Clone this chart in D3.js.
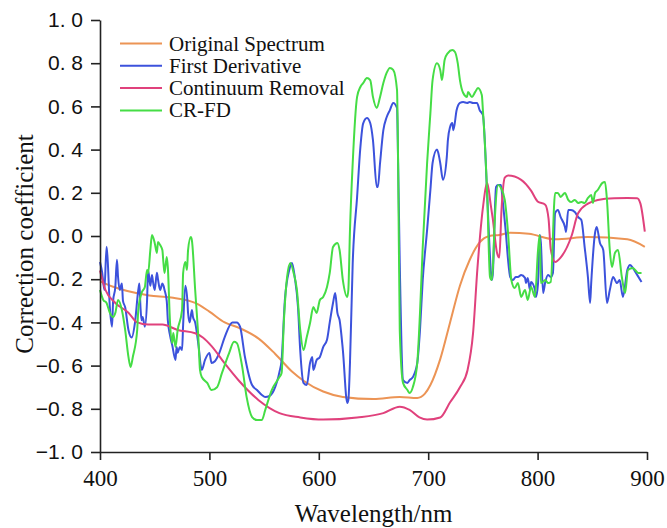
<!DOCTYPE html>
<html>
<head>
<meta charset="utf-8">
<script src="https://cdn.jsdelivr.net/npm/d3@7"></script>
<style>
  html, body { margin: 0; padding: 0; background: #fff; }
  svg { display: block; }
</style>
</head>
<body>
<svg id="chart" width="667" height="528"></svg>
<script>
// ---------- data ----------
const wavelengthTicks = [400, 500, 600, 700, 800, 900];
const coefficientTicks = [-1.0, -0.8, -0.6, -0.4, -0.2, 0.0, 0.2, 0.4, 0.6, 0.8, 1.0];
const seriesNames = ["Original Spectrum", "First Derivative", "Continuum Removal", "CR-FD"];
const seriesColors = ["#ec9455", "#3c52dc", "#e0417c", "#45dd45"];

const originalSpectrum = [
  [400,-0.21],[412,-0.235],[425,-0.255],[445,-0.275],[465,-0.285],[487,-0.31],[500,-0.35],
  [514,-0.40],[527,-0.425],[545,-0.475],[560,-0.545],[576,-0.63],[586,-0.67],[604,-0.72],
  [622,-0.745],[650,-0.755],[674,-0.745],[690,-0.75],[697,-0.73],[702,-0.69],[711,-0.57],
  [720,-0.40],[729,-0.23],[738,-0.11],[747,-0.03],[756,0.0],[765,0.005],[775,0.015],
  [792,0.01],[816,-0.015],[846,-0.005],[882,-0.015],[898,-0.05]
];

const firstDerivative = [
  [400,-0.12],[402,-0.17],[404,-0.25],[406,-0.05],[407,-0.11],[409,-0.33],[411,-0.42],[412,-0.30],
  [414,-0.236],[415.5,-0.11],[416.5,-0.19],[418,-0.25],[420,-0.22],[421,-0.30],[423,-0.33],
  [426,-0.435],[429,-0.47],[432,-0.40],[435,-0.25],[436,-0.22],[437,-0.33],[438,-0.39],
  [439,-0.375],[441,-0.42],[443,-0.30],[444,-0.157],[446,-0.23],[447.5,-0.18],[448.4,-0.21],
  [450,-0.25],[452,-0.17],[453,-0.20],[455,-0.25],[457,-0.22],[458,-0.23],[459,-0.25],
  [461,-0.30],[462,-0.39],[464,-0.46],[466,-0.505],[469,-0.574],[470,-0.514],[471,-0.54],
  [473,-0.514],[475,-0.528],[476,-0.41],[478,-0.23],[480,-0.31],[480.5,-0.356],[482,-0.40],
  [484,-0.343],[485,-0.375],[487,-0.40],[490,-0.505],[493,-0.62],[496,-0.574],[500,-0.542],
  [502,-0.588],[505,-0.58],[509,-0.542],[514,-0.468],[521,-0.40],[525,-0.40],[528,-0.42],
  [532.5,-0.56],[539,-0.69],[543.5,-0.713],[548,-0.736],[551,-0.745],[555,-0.74],[559,-0.713],
  [564,-0.63],[566,-0.574],[569,-0.296],[573,-0.157],[575.5,-0.125],[578,-0.19],[581,-0.33],
  [583,-0.528],[586,-0.68],[589,-0.69],[592,-0.588],[594,-0.56],[595,-0.62],[598,-0.574],
  [601,-0.56],[604,-0.514],[607.5,-0.48],[610,-0.40],[613,-0.31],[615,-0.264],[617,-0.356],
  [619,-0.389],[622,-0.528],[626,-0.773],[627,-0.76],[628.5,-0.588],[631,-0.125],[635,0.18],
  [638,0.41],[640.5,0.52],[644,0.546],[647,0.523],[649.5,0.444],[653,0.227],[654,0.227],
  [656,0.338],[659,0.49],[662,0.55],[665,0.583],[668,0.616],[671.5,0.593],[672.5,0.338],
  [674,-0.125],[677,-0.667],[681,-0.68],[683,-0.667],[686,-0.653],[690,-0.588],[692.5,-0.435],
  [695,-0.204],[699,0.028],[702,0.213],[704,0.338],[708,0.40],[709,0.389],[711,0.338],
  [713.5,0.26],[717,0.366],[718,0.444],[720,0.505],[722,0.523],[723,0.49],[726,0.583],
  [729,0.616],[732,0.62],[735.5,0.616],[738,0.62],[741,0.616],[744.6,0.616],[747,0.583],
  [750,0.56],[754,0.18],[756.5,-0.097],[758,-0.204],[759,-0.18],[762,0.227],[764,0.236],
  [766.5,0.236],[768,0.167],[771,0.014],[773,-0.111],[775,-0.19],[777.5,-0.204],[780,-0.19],
  [782,-0.19],[785,-0.18],[788.5,-0.194],[789.4,-0.218],[791,-0.194],[793,-0.25],[794,-0.213],
  [797.6,-0.25],[798.5,-0.282],[800.4,-0.218],[802,0.005],[803,-0.032],[805,-0.264],[807,-0.213],
  [809.5,-0.18],[812,-0.19],[814,-0.171],[816,0.106],[818.6,0.12],[821,0.088],[825,0.042],
  [826,0.019],[828,0.12],[830.5,0.12],[834,0.111],[837,0.088],[840,0.074],[843,-0.051],
  [846,-0.19],[848,-0.31],[849,-0.218],[852.5,0.014],[854,0.042],[857,-0.032],[860,-0.065],
  [863.4,-0.31],[866,-0.25],[869,-0.19],[872.6,-0.218],[875,-0.204],[878,-0.282],[882,-0.157],
  [884.5,-0.134],[887,-0.148],[891,-0.18],[895,-0.213]
];

const continuumRemoval = [
  [400,-0.16],[405,-0.25],[414,-0.31],[426,-0.355],[434,-0.40],[444,-0.41],[457,-0.41],
  [471,-0.435],[487,-0.45],[494,-0.47],[502,-0.51],[514,-0.59],[527,-0.67],[545,-0.76],
  [564,-0.82],[583,-0.84],[604,-0.85],[635,-0.84],[659,-0.82],[674,-0.79],[683,-0.805],
  [692,-0.84],[699,-0.85],[711,-0.84],[720,-0.77],[729,-0.70],[736,-0.62],[741,-0.45],
  [745,-0.15],[750,0.13],[754,0.245],[757,0.15],[759,0.08],[763,-0.08],[765,-0.10],
  [767,0.12],[770,0.27],[773,0.28],[785,0.26],[794,0.21],[800,0.16],[807,0.145],[810,0.08],
  [812,-0.06],[816,-0.12],[821,-0.10],[831,0.0],[837,0.105],[846,0.15],[855,0.167],
  [870,0.175],[882,0.176],[891,0.175],[894,0.15],[898,0.02]
];

const crFd = [
  [400,-0.25],[403,-0.296],[406,-0.31],[409,-0.356],[412,-0.375],[414,-0.356],[416.5,-0.296],
  [420,-0.343],[423,-0.435],[426,-0.56],[428,-0.606],[430,-0.56],[434,-0.435],[435,-0.343],
  [438,-0.264],[441,-0.236],[443,-0.157],[444,-0.171],[446,-0.065],[447.5,0.005],[450,-0.032],
  [452,-0.079],[453,-0.028],[455,-0.042],[457,-0.065],[458,-0.125],[459,-0.171],[461,-0.097],
  [462,-0.144],[464,-0.40],[466,-0.495],[467,-0.449],[469,-0.514],[471,-0.435],[475,-0.343],
  [476,-0.171],[478,-0.12],[479.5,-0.157],[480.5,-0.065],[483,-0.005],[484,-0.02],[487,-0.25],
  [490,-0.48],[491.4,-0.62],[493,-0.653],[498,-0.68],[502,-0.713],[507,-0.70],[511.5,-0.634],
  [518,-0.542],[522.5,-0.49],[525,-0.495],[530,-0.606],[534,-0.745],[539,-0.838],[543.5,-0.852],
  [548,-0.852],[551,-0.806],[557,-0.713],[564,-0.653],[566,-0.634],[568,-0.403],[571,-0.19],
  [574,-0.125],[577,-0.171],[580,-0.25],[583,-0.435],[586,-0.528],[589,-0.468],[592,-0.403],
  [595,-0.329],[598,-0.356],[601,-0.296],[604,-0.282],[607.5,-0.236],[610,-0.171],[613,-0.051],
  [617,-0.032],[619,-0.065],[622,-0.204],[626,-0.282],[627,-0.25],[628.5,0.028],[631,0.338],
  [635,0.644],[638,0.69],[640.5,0.708],[644,0.731],[647,0.722],[649.5,0.644],[653,0.593],
  [656,0.644],[659,0.708],[662,0.755],[665,0.778],[668,0.769],[671.5,0.676],[672.5,0.338],
  [674,-0.435],[677,-0.68],[681,-0.713],[683,-0.727],[686,-0.699],[690,-0.588],[692.5,-0.356],
  [695,-0.051],[699,0.338],[702,0.569],[704,0.722],[708,0.80],[711,0.769],[712.6,0.722],
  [715,0.815],[718,0.847],[722,0.861],[724.5,0.852],[727,0.80],[729,0.722],[732,0.662],
  [735.5,0.644],[736.4,0.667],[740,0.644],[743,0.667],[745.5,0.685],[749,0.653],[750,0.583],
  [754,0.18],[756.5,-0.19],[758,-0.204],[759,-0.157],[761,0.088],[764,0.236],[766.5,0.222],
  [770,0.167],[773,0.014],[776,-0.204],[779,-0.241],[782,-0.218],[785,-0.282],[788.5,-0.25],
  [791,-0.296],[794,-0.236],[797.6,-0.282],[800.4,-0.065],[802,0.005],[803,-0.218],[807,-0.204],
  [809.5,-0.218],[812,-0.213],[816,0.199],[818.6,0.199],[821,0.181],[825,0.199],[828,0.167],
  [830.5,0.157],[834,0.167],[837,0.153],[840,0.157],[843,0.153],[846,0.176],[849,0.19],
  [850.6,0.153],[852.5,0.199],[855,0.213],[859,0.245],[861.6,0.25],[863.4,0.167],[866,-0.065],
  [868,-0.144],[870.7,-0.079],[873.5,-0.065],[877,-0.19],[880,-0.264],[882.6,-0.157],
  [887,-0.148],[892,-0.171],[895,-0.171]
];

const allSeries = [originalSpectrum, firstDerivative, continuumRemoval, crFd];

// ---------- layout ----------
const svg = d3.select("#chart");
const x = d3.scaleLinear().domain([400, 900]).range([100, 647]);
const y = d3.scaleLinear().domain([-1, 1]).range([452, 20]);

const serif = "'Liberation Serif', 'Times New Roman', serif";
const sans = "'Liberation Sans', Arial, sans-serif";
const axisColor = "#222";

// lines
const line = d3.line()
  .x(d => x(d[0]))
  .y(d => y(d[1]))
  .curve(d3.curveMonotoneX);

svg.append("g").selectAll("path")
  .data(allSeries)
  .join("path")
  .attr("d", line)
  .attr("fill", "none")
  .attr("stroke", (d, i) => seriesColors[i])
  .attr("stroke-width", 2)
  .attr("stroke-linejoin", "round");

// y axis
const fmt = v => d3.format(".1f")(v).replace(".", ". ");
const yAxis = svg.append("g")
  .attr("transform", `translate(${x(400)},0)`)
  .call(d3.axisLeft(y).tickValues(coefficientTicks).tickFormat(fmt).tickSize(9).tickSizeOuter(0).tickPadding(8));
yAxis.selectAll("text").attr("font-family", sans).attr("font-size", 21).attr("fill", "#111");

// x axis
const xAxis = svg.append("g")
  .attr("transform", `translate(0,${y(-1)})`)
  .call(d3.axisBottom(x).tickValues(wavelengthTicks).tickFormat(d3.format("d")).tickSize(8).tickSizeOuter(0).tickPadding(10));
xAxis.selectAll("text").attr("font-family", serif).attr("font-size", 23).attr("fill", "#111");

svg.selectAll(".domain, .tick line").attr("stroke", axisColor).attr("stroke-width", 1.6);

// axis titles
svg.append("text")
  .attr("x", (x(400) + x(900)) / 2)
  .attr("y", 522)
  .attr("text-anchor", "middle")
  .attr("font-family", serif)
  .attr("font-size", 25)
  .attr("fill", "#111")
  .text("Wavelength/nm");

svg.append("text")
  .attr("transform", `translate(33,244) rotate(-90)`)
  .attr("text-anchor", "middle")
  .attr("font-family", serif)
  .attr("font-size", 25)
  .attr("fill", "#111")
  .text("Correction coefficient");

// legend
const legend = svg.append("g");
const legendRows = [43.5, 65.8, 88.1, 110.4];
seriesNames.forEach((name, i) => {
  legend.append("line")
    .attr("x1", 120).attr("x2", 162)
    .attr("y1", legendRows[i]).attr("y2", legendRows[i])
    .attr("stroke", seriesColors[i]).attr("stroke-width", 2);
  legend.append("text")
    .attr("x", 169).attr("y", legendRows[i] + 7)
    .attr("font-family", serif)
    .attr("font-size", 21)
    .attr("fill", "#111")
    .text(name);
});
</script>
</body>
</html>
